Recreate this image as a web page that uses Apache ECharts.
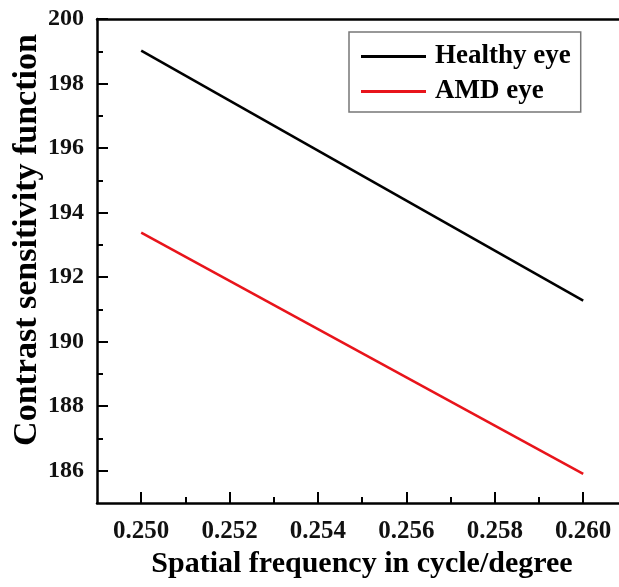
<!DOCTYPE html>
<html>
<head>
<meta charset="utf-8">
<title></title>
<style type="text/css">
  html, body { margin: 0; padding: 0; background: #fff; }
  #main { width: 619px; height: 587px; }
</style>
</head>
<body>
<div id="main"></div>
<script src="https://cdn.jsdelivr.net/npm/echarts@6/dist/echarts.min.js"></script>
<script type="text/javascript">
// frequency values (cycle/degree)
var freq = [0.250, 0.260];
// contrast sensitivity
var healthy = [199.02, 191.27];
var amd = [193.38, 185.90];

var xMajor = [0.250, 0.252, 0.254, 0.256, 0.258, 0.260];
var xMinor = [0.251, 0.253, 0.255, 0.257, 0.259];
var yMajor = [186, 188, 190, 192, 194, 196, 198, 200];
var yMinor = [187, 189, 191, 193, 195, 197, 199];

var serif = 'Liberation Serif';

function pairs(xs, ys) {
  var out = [];
  for (var i = 0; i < xs.length; i++) out.push([xs[i], ys[i]]);
  return out;
}

var chartDom = document.getElementById('main');
var myChart = echarts.init(chartDom);
// the frame runs past the right edge of the picture
var xMin = 0.249, xMax = 0.26081;
var yMin = 185, yMax = 200;

var option = {
  animation: false,
  grid: { left: 97, top: 19, right: 0, height: 484 },
  legend: {
    orient: 'vertical',
    left: 349, top: 32,
    padding: [11, 10, 7, 12],
    itemWidth: 65, itemHeight: 3, itemGap: 8,
    icon: 'rect',
    borderColor: '#777', borderWidth: 1.5,
    textStyle: { fontFamily: serif, fontWeight: 'bold', fontSize: 27, color: '#000', padding: [0, 0, 0, 4] },
    data: ['Healthy eye', 'AMD eye']
  },
  graphic: [
    {
      type: 'text', x: 27, y: 240, rotation: Math.PI / 2,
      style: { text: 'Contrast sensitivity function', fontFamily: serif, fontWeight: 'bold', fontSize: 34, fill: '#000',
        align: 'center', verticalAlign: 'middle' }
    }
  ],
  xAxis: [
    {
      type: 'value', min: xMin, max: xMax,
      name: 'Spatial frequency in cycle/degree',
      nameLocation: 'middle', nameGap: 39,
      nameTextStyle: { fontFamily: serif, fontWeight: 'bold', fontSize: 30, color: '#000', padding: [0, 0, 0, 8] },
      axisLine: { lineStyle: { color: '#000', width: 2.5 } },
      axisTick: { inside: true, length: 11, customValues: xMajor, lineStyle: { color: '#000', width: 2 } },
      axisLabel: { customValues: xMajor, margin: 16, fontFamily: serif, fontWeight: 'bold', fontSize: 25, color: '#111',
        formatter: function (v) { return v.toFixed(3); } },
      splitLine: { show: false }
    },
    {
      type: 'value', min: xMin, max: xMax, position: 'bottom',
      axisLine: { show: false },
      axisTick: { inside: true, length: 6, customValues: xMinor, lineStyle: { color: '#000', width: 2 } },
      axisLabel: { show: false }, splitLine: { show: false }
    },
    {
      type: 'value', min: xMin, max: xMax, position: 'top',
      axisLine: { lineStyle: { color: '#000', width: 2.5 } },
      axisTick: { show: false }, axisLabel: { show: false }, splitLine: { show: false }
    }
  ],
  yAxis: [
    {
      type: 'value', min: yMin, max: yMax,
      axisLine: { show: true, lineStyle: { color: '#000', width: 2.5 } },
      axisTick: { show: true, inside: true, length: 11, customValues: yMajor, lineStyle: { color: '#000', width: 2 } },
      axisLabel: { customValues: yMajor, margin: 13, fontFamily: serif, fontWeight: 'bold', fontSize: 24, color: '#111' },
      splitLine: { show: false }
    },
    {
      type: 'value', min: yMin, max: yMax, position: 'left',
      axisLine: { show: false },
      axisTick: { show: true, inside: true, length: 6, customValues: yMinor, lineStyle: { color: '#000', width: 2 } },
      axisLabel: { show: false }, splitLine: { show: false }
    }
  ],
  series: [
    {
      name: 'Healthy eye', type: 'line', xAxisIndex: 0, yAxisIndex: 0,
      symbol: 'none', data: pairs(freq, healthy),
      itemStyle: { color: '#000' }, lineStyle: { color: '#000', width: 2.5 }
    },
    {
      name: 'AMD eye', type: 'line', xAxisIndex: 0, yAxisIndex: 0,
      symbol: 'none', data: pairs(freq, amd),
      itemStyle: { color: '#e8141b' }, lineStyle: { color: '#e8141b', width: 2.5 }
    }
  ]
};

option && myChart.setOption(option);
</script>
</body>
</html>
